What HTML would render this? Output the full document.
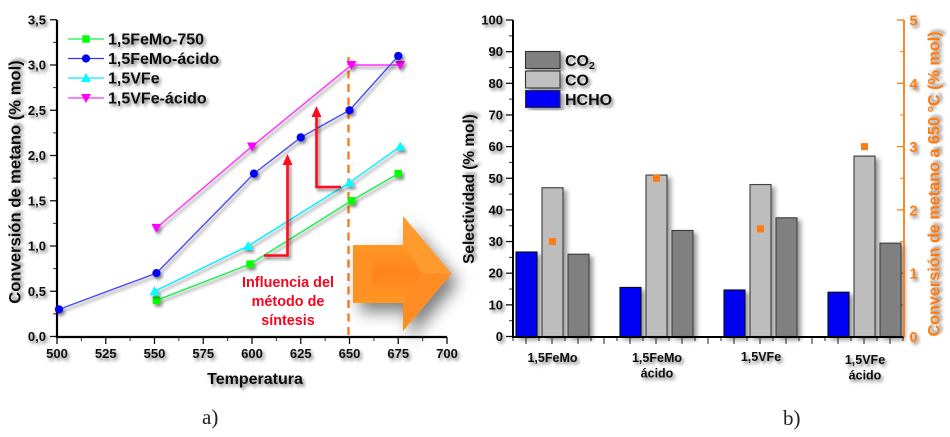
<!DOCTYPE html>
<html lang="es">
<head>
<meta charset="utf-8">
<title>Conversión de metano y selectividad</title>
<style>
html,body{margin:0;padding:0;background:#fff;width:950px;height:437px;overflow:hidden}
svg{display:block}
text{font-family:"Liberation Sans",sans-serif;font-weight:bold;fill:#111}
.cap{font-family:"Liberation Serif",serif;font-weight:normal;font-size:21px;fill:#222}
.inf{fill:#f5061e;font-size:14.4px;text-anchor:middle}
.org{fill:#ff7a10}
</style>
</head>
<body>
<svg id="root" xmlns="http://www.w3.org/2000/svg" width="950" height="437" viewBox="0 0 950 437">
<defs>
<filter id="sh" x="-30%" y="-30%" width="170%" height="170%"><feDropShadow dx="2" dy="2.5" stdDeviation="1.6" flood-color="#000" flood-opacity="0.5"/></filter>
<filter id="shBar" x="-40%" y="-10%" width="190%" height="125%"><feDropShadow dx="3.5" dy="3" stdDeviation="2.4" flood-color="#000" flood-opacity="0.4"/></filter>
<filter id="shBig" x="-30%" y="-30%" width="180%" height="180%"><feDropShadow dx="7" dy="9" stdDeviation="8" flood-color="#000" flood-opacity="0.5"/></filter>
<linearGradient id="arrowBody" x1="0" y1="0" x2="0" y2="1"><stop offset="0" stop-color="#ffc02e"/><stop offset="0.22" stop-color="#ff9a26"/><stop offset="0.5" stop-color="#ff841c"/><stop offset="0.8" stop-color="#ff9a26"/><stop offset="1" stop-color="#ffb52a"/></linearGradient>
</defs>
<g id="chartA"></g>
<g id="chartB"></g>

<g>
<polygon filter="url(#shBig)" points="353,245 403,245 403,216 451.5,273.5 403,331 403,303 353,303" fill="url(#arrowBody)"/>
<polygon points="353,245 372,262 372,286 353,303" fill="#ff9024"/>
<polygon points="403,216 451.5,273.5 422,273.5 403,245" fill="#ff9a2c"/>
<polygon points="403,331 451.5,273.5 422,273.5 403,303" fill="#ff8d24"/>
</g>

<g>
<path filter="url(#sh)" d="M264 255.5H287.5V162" fill="none" stroke="#ff0a1e" stroke-width="2.6"/>
<polygon points="287.5,154 282.5,165 292.5,165" fill="#ff0a1e"/>
<path filter="url(#sh)" d="M341 187H316.5V114" fill="none" stroke="#ff0a1e" stroke-width="2.6"/>
<polygon points="316.5,106 311.5,117 321.5,117" fill="#ff0a1e"/>
<text class="inf" x="288" y="287">Influencia del</text>
<text class="inf" x="288" y="306">método de</text>
<text class="inf" x="288" y="325">síntesis</text>
</g>

<text class="cap" x="202" y="424">a)</text>
<text class="cap" x="783" y="425">b)</text>
</svg>

<script>
/* ---------- chart A data ---------- */
const tempTicks = [500, 525, 550, 575, 600, 625, 650, 675, 700];
const convTicks = ['0,0', '0,5', '1,0', '1,5', '2,0', '2,5', '3,0', '3,5'];
const feMo750T = [551, 599, 651, 675];
const feMo750V = [0.4, 0.8, 1.5, 1.8];
const feMoAcidT = [501, 551, 601, 625, 650, 675];
const feMoAcidV = [0.3, 0.7, 1.8, 2.2, 2.5, 3.1];
const vFeT = [550, 598, 650, 676];
const vFeV = [0.5, 1.0, 1.7, 2.1];
const vFeAcidT = [551, 600, 651, 676];
const vFeAcidV = [1.2, 2.1, 3.0, 3.0];

/* ---------- chart B data ---------- */
const catalysts = [['1,5FeMo'], ['1,5FeMo', 'ácido'], ['1,5VFe'], ['1,5VFe', 'ácido']];
const hcho = [26.7, 15.5, 14.7, 14.0];
const co = [47, 51, 48, 57];
const co2 = [26, 33.5, 37.5, 29.5];
const conv650 = [1.5, 2.5, 1.7, 3.0];
const selTicks = [0, 10, 20, 30, 40, 50, 60, 70, 80, 90, 100];
const convRightTicks = [0, 1, 2, 3, 4, 5];

const NS = 'http://www.w3.org/2000/svg';
function mk(tag, attrs, parent) {
  const e = document.createElementNS(NS, tag);
  for (const k in attrs) e.setAttribute(k, attrs[k]);
  parent.appendChild(e);
  return e;
}
const A = document.getElementById('chartA');
const B = document.getElementById('chartB');

/* axis functions */
const xA = t => 57 + (t - 500) * 1.95;
const yA = v => 336.5 - v * 90.5;
const yB = v => 336.5 - v * 3.165;
const yR = v => 336.5 - v * 63.3;
const xB = i => 552.5 + 104 * i;

/* ---- chart A axes ---- */
for (let i = 0; i < convTicks.length; i++) {
  const y = yA(i * 0.5);
  const t = mk('line', {x1: 50, x2: 57, y1: y, y2: y, stroke: '#111', 'stroke-width': 1.3}, A);
  
  
  if (i < convTicks.length - 1) {
    const m = mk('line', {x1: 53, x2: 57, y1: yA(i * 0.5 + 0.25), y2: yA(i * 0.5 + 0.25), stroke: '#333', 'stroke-width': 1}, A);
    
    
  }
  const l = mk('text', {x: 46, y: y + 4.5, 'text-anchor': 'end', 'font-size': 13, filter: 'url(#sh)'}, A);
  l.textContent = convTicks[i];
  
  
}
for (let i = 0; i < tempTicks.length; i++) {
  const x = xA(tempTicks[i]);
  const t = mk('line', {x1: x, x2: x, y1: 337, y2: 344, stroke: '#111', 'stroke-width': 1.3}, A);
  
  
  if (i < tempTicks.length - 1) {
    const mx = xA(tempTicks[i] + 12.5);
    const m = mk('line', {x1: mx, x2: mx, y1: 337, y2: 341, stroke: '#333', 'stroke-width': 1}, A);
    
    
  }
  const l = mk('text', {x: x, y: 358, 'text-anchor': 'middle', 'font-size': 13, filter: 'url(#sh)'}, A);
  l.textContent = tempTicks[i];
  
  
}
const axA = mk('path', {d: 'M57 20V337H447', fill: 'none', stroke: '#000', 'stroke-width': 2.2}, A);


const yTitleA = mk('text', {x: 0, y: 0, transform: 'translate(20.5,182) rotate(-90)', 'text-anchor': 'middle', 'font-size': 16.6, filter: 'url(#sh)'}, A);
yTitleA.textContent = 'Conversión de metano (% mol)';


const xTitleA = mk('text', {x: 255, y: 384, 'text-anchor': 'middle', 'font-size': 16, filter: 'url(#sh)'}, A);
xTitleA.textContent = 'Temperatura';



/* markers */
function marker(kind, x, y, color, parent) {
  if (kind === 'square') return mk('rect', {x: x - 3.7, y: y - 3.7, width: 7.4, height: 7.4, fill: color}, parent);
  if (kind === 'circle') return mk('circle', {cx: x, cy: y, r: 4.1, fill: color}, parent);
  if (kind === 'up') return mk('polygon', {points: (x - 5) + ',' + (y + 4) + ' ' + (x + 5) + ',' + (y + 4) + ' ' + x + ',' + (y - 5)}, parent);
  return mk('polygon', {points: (x - 5) + ',' + (y - 4) + ' ' + (x + 5) + ',' + (y - 4) + ' ' + x + ',' + (y + 5)}, parent);
}

/* reference line sits behind every series */
const refLine = mk('line', {x1: 348.5, x2: 348.5, y1: 57, y2: 337, stroke: '#ff7a1e', 'stroke-width': 2.4, 'stroke-dasharray': '8 5.5'}, A);



/* series */
function drawSeries(name, ts, vs, lineColor, markColor, kind) {
  const g = mk('g', {filter: 'url(#sh)'}, A);
  
  
  const pts = ts.map((t, i) => xA(t) + ',' + yA(vs[i])).join(' ');
  const pl = mk('polyline', {points: pts, fill: 'none', stroke: lineColor, 'stroke-width': 1.4}, g);
  
  
  ts.forEach((t, i) => {
    const m = marker(kind, xA(t), yA(vs[i]), markColor, g);
    m.setAttribute('fill', markColor);
    
    
  });
}
drawSeries('series-femo-750', feMo750T, feMo750V, '#14f050', '#00ff00', 'square');
drawSeries('series-vfe', vFeT, vFeV, '#00f0ff', '#00ffff', 'up');
drawSeries('series-vfe-acido', vFeAcidT, vFeAcidV, '#ff30ff', '#ff00ff', 'down');
drawSeries('series-femo-acido', feMoAcidT, feMoAcidV, '#4a4af5', '#0000f5', 'circle');

/* legend A */
const legendNames = ['1,5FeMo-750', '1,5FeMo-ácido', '1,5VFe', '1,5VFe-ácido'];
const legendLine = ['#14f050', '#3030ff', '#00f0ff', '#ff30ff'];
const legendMark = ['#00ff00', '#0000f5', '#00ffff', '#ff00ff'];
const legendKind = ['square', 'circle', 'up', 'down'];
const legendY = [39, 58.5, 78, 98];
legendNames.forEach((n, i) => {
  const g = mk('g', {}, A);
  
  
  const ln = mk('line', {x1: 68, x2: 104, y1: legendY[i], y2: legendY[i], stroke: legendLine[i], 'stroke-width': 1.3}, g);
  
  
  const m = marker(legendKind[i], 86, legendY[i], legendMark[i], g);
  m.setAttribute('fill', legendMark[i]);
  
  
  const t = mk('text', {x: 108, y: legendY[i] + 5.5, 'font-size': 16, filter: 'url(#sh)'}, g);
  t.textContent = n;
  
  
});

/* ---- chart B axes ---- */
selTicks.forEach((v, i) => {
  const y = yB(v);
  const t = mk('line', {x1: 506, x2: 513, y1: y, y2: y, stroke: '#111', 'stroke-width': 1.3}, B);
  
  
  if (i < selTicks.length - 1) {
    const m = mk('line', {x1: 509, x2: 513, y1: yB(v + 5), y2: yB(v + 5), stroke: '#333', 'stroke-width': 1}, B);
    
    
  }
  const l = mk('text', {x: 503, y: y + 4.5, 'text-anchor': 'end', 'font-size': 13, filter: 'url(#sh)'}, B);
  l.textContent = v;
  
  
});
convRightTicks.forEach((v, i) => {
  const y = yR(v);
  const t = mk('line', {x1: 897, x2: 904, y1: y, y2: y, stroke: '#ff7a10', 'stroke-width': 1.3}, B);
  
  
  if (i < convRightTicks.length - 1) {
    const m = mk('line', {x1: 900, x2: 904, y1: yR(v + 0.5), y2: yR(v + 0.5), stroke: '#ff7a10', 'stroke-width': 1}, B);
    
    
  }
  const l = mk('text', {x: 909.5, y: y + 5.5, 'font-size': 14.5, 'class': 'org', filter: 'url(#sh)'}, B);
  l.textContent = v;
  
  
});

/* bars */
catalysts.forEach((lines, i) => {
  const c = xB(i);
  [[hcho, '#0000f5', -26, 'bar-hcho'], [co, '#bdbdbd', 0, 'bar-co'], [co2, '#808080', 26, 'bar-co2']].forEach(s => {
    const h = s[0][i] * 3.165;
    const r = mk('rect', {x: c + s[2] - 10.5, y: yB(s[0][i]), width: 21, height: h, fill: s[1], stroke: s[1] === '#0000f5' ? '#111' : '#3c3c3c', 'stroke-width': 1.1, filter: 'url(#shBar)'}, B);
    
    
  });
  lines.forEach((txt, k) => {
    const yBase = (i === 3 ? 364 : i === 2 ? 361 : 362) + k * 15.5;
    const l = mk('text', {x: c + (i === 0 ? 0 : 0.5), y: yBase, 'text-anchor': 'middle', 'font-size': 12.5, filter: 'url(#sh)'}, B);
    l.textContent = txt;
    
    
  });
});
/* x ticks */
for (let k = 0; k <= 30; k++) {
  const tx = 513 + k * 13;
  const t = mk('line', {x1: tx, x2: tx, y1: 337, y2: k % 2 ? 344 : 341, stroke: '#222', 'stroke-width': 1}, B);
  
  
}
const axB = mk('path', {d: 'M513 20V337H904', fill: 'none', stroke: '#000', 'stroke-width': 2}, B);


const axR = mk('line', {x1: 904, x2: 904, y1: 20, y2: 337, stroke: '#ff7a10', 'stroke-width': 1.8}, B);



/* orange conversion markers */
conv650.forEach((v, i) => {
  const m = mk('rect', {x: xB(i) - 3.5, y: yR(v) - 3.5, width: 7, height: 7, fill: '#ff7a10'}, B);
  
  
});

/* titles B */
const yTitleB = mk('text', {x: 0, y: 0, transform: 'translate(474,189) rotate(-90)', 'text-anchor': 'middle', 'font-size': 15.4, filter: 'url(#sh)'}, B);
yTitleB.textContent = 'Selectividad (% mol)';


const yTitleR = mk('text', {x: 0, y: 0, transform: 'translate(939.5,184) rotate(-90)', 'text-anchor': 'middle', 'font-size': 16.2, 'class': 'org', filter: 'url(#sh)', 'xml:space': 'preserve'}, B);
yTitleR.textContent = 'Conversión de metano a 650 °C  (% mol)';



/* legend B */
const legBFill = ['#808080', '#c0c0c0', '#0000f5'];
const legBY = [51.5, 71, 90.5];
const legBText = ['CO', 'CO', 'HCHO'];
legBText.forEach((n, i) => {
  const g = mk('g', {}, B);
  
  
  const r = mk('rect', {x: 525.5, y: legBY[i], width: 34.5, height: 17, fill: legBFill[i], stroke: '#333', 'stroke-width': 1.1, filter: 'url(#shBar)'}, g);
  
  
  const t = mk('text', {x: 565, y: legBY[i] + 14.5, 'font-size': 16, filter: 'url(#sh)'}, g);
  t.textContent = n;
  
  
  if (i === 0) {
    const s = mk('tspan', {'font-size': 10.5, dy: 3}, t);
    s.textContent = '2';
    
    
  }
});
</script>
</body>
</html>
